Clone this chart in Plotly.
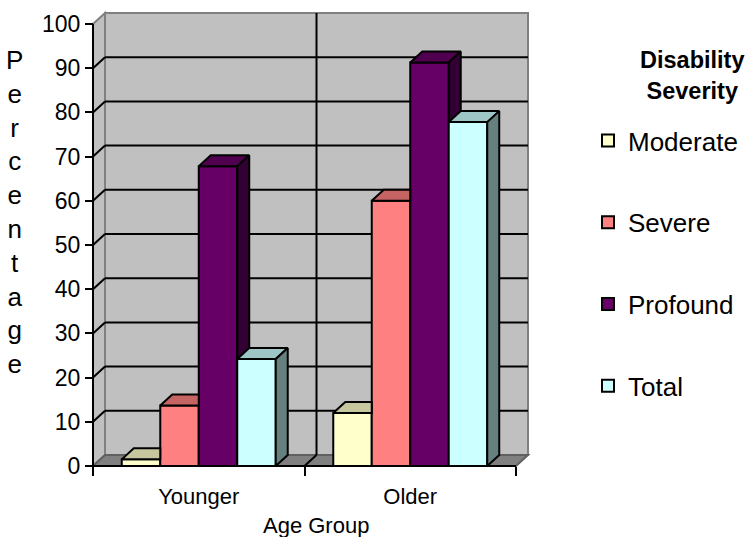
import plotly.graph_objects as go

# ---------------- data ----------------
categories = ["Younger", "Older"]
series_names = ["Moderate", "Severe", "Profound", "Total"]
moderate = [1.5, 12.0]
severe = [13.7, 60.0]
profound = [67.8, 91.3]
total = [24.2, 77.8]
y_ticks = [0, 10, 20, 30, 40, 50, 60, 70, 80, 90, 100]
x_title = "Age Group"
y_title = "Percentage"
legend_title = "Disability<br>Severity"

series_values = [moderate, severe, profound, total]
front_colors = ["#FFFFCC", "#FF8080", "#660066", "#CCFFFF"]


def shade(hx, f):
    hx = hx.lstrip("#")
    r, g, b = (int(hx[i:i + 2], 16) for i in (0, 2, 4))
    return "#%02X%02X%02X" % (int(r * f), int(g * f), int(b * f))


top_colors = [shade(c, 0.78) for c in front_colors]
side_colors = [shade(c, 0.5) for c in front_colors]

# ---------------- layout geometry (pixels) ----------------
W, H = 747, 537
FRONT_L, FRONT_R, FRONT_B, FRONT_T = 93, 516, 466, 24
DEPTH_X, DEPTH_Y = 12, 11
PAD = 4
FONT = "Liberation Sans, Arial, sans-serif"

n_cat = len(categories)
ymax = y_ticks[-1]
pxx = (FRONT_R - FRONT_L) / n_cat
pxy = (FRONT_B - FRONT_T) / ymax
DX = DEPTH_X / pxx
DY = DEPTH_Y / pxy
X0, X1 = -0.5, n_cat - 0.5
xrange_ = [X0 - PAD / pxx, X1 + DX + PAD / pxx]
yrange_ = [-PAD / pxy, ymax + DY + PAD / pxy]
ml = FRONT_L - PAD
mr = W - (FRONT_R + DEPTH_X + PAD)
mt = FRONT_T - DEPTH_Y - PAD
mb = H - FRONT_B - PAD
pw = W - ml - mr
ph = H - mt - mb


def pxp(px):
    return (px - ml) / pw


def pyp(py):
    return 1 - (py - mt) / ph


BARGAP = 0.272
GW = 1 - BARGAP
BW = GW / len(series_names)

fig = go.Figure()

# front faces: real bars
for name, vals, col in zip(series_names, series_values, front_colors):
    fig.add_trace(go.Bar(
        name=name, x=list(range(n_cat)), y=vals,
        marker=dict(color=col, line=dict(color="black", width=2)),
        legendgroup=name, hoverinfo="name+y",
    ))

# top and side faces (3D look), computed from the same values
for i, (name, vals) in enumerate(zip(series_names, series_values)):
    tx, ty, sx, sy = [], [], [], []
    for c in range(n_cat):
        v = vals[c]
        xl = c - GW / 2 + i * BW
        xr = xl + BW
        nxt = series_values[i + 1][c] if i + 1 < len(series_values) else None
        if nxt is not None and nxt > v:
            poly = [(xl, v), (xr, v), (xr, v + DY), (xl + DX, v + DY)]
        else:
            poly = [(xl, v), (xr, v), (xr + DX, v + DY), (xl + DX, v + DY)]
        poly.append(poly[0])
        tx += [p[0] for p in poly] + [None]
        ty += [p[1] for p in poly] + [None]
        base = nxt if nxt is not None else 0
        if base < v:
            sp = [(xr, base), (xr + DX, base + DY), (xr + DX, v + DY), (xr, v), (xr, base)]
            sx += [p[0] for p in sp] + [None]
            sy += [p[1] for p in sp] + [None]
    fig.add_trace(go.Scatter(x=tx, y=ty, mode="lines", fill="toself",
                             fillcolor=top_colors[i], line=dict(color="black", width=2),
                             showlegend=False, hoverinfo="skip"))
    if sx:
        fig.add_trace(go.Scatter(x=sx, y=sy, mode="lines", fill="toself",
                                 fillcolor=side_colors[i], line=dict(color="black", width=2),
                                 showlegend=False, hoverinfo="skip"))

# ---------------- walls, floor, gridlines ----------------
shapes = []
wall_gray = "#C0C0C0"
edge_gray = "#808080"
# back wall
shapes.append(dict(type="rect", xref="x", yref="y", x0=X0 + DX, x1=X1 + DX, y0=DY, y1=ymax + DY,
                   fillcolor=wall_gray, line=dict(color=edge_gray, width=2), layer="below"))
# left side wall
shapes.append(dict(type="path", xref="x", yref="y",
                   path=f"M {X0} 0 L {X0} {ymax} L {X0 + DX} {ymax + DY} L {X0 + DX} {DY} Z",
                   fillcolor=wall_gray, line=dict(color=edge_gray, width=2), layer="below"))
# floor
shapes.append(dict(type="path", xref="x", yref="y",
                   path=f"M {X0} 0 L {X1} 0 L {X1 + DX} {DY} L {X0 + DX} {DY} Z",
                   fillcolor="#808080", line=dict(color="#606060", width=2), layer="below"))
# horizontal gridlines on back and side walls
for v in y_ticks[1:-1]:
    shapes.append(dict(type="line", xref="x", yref="y", x0=X0 + DX, x1=X1 + DX, y0=v + DY, y1=v + DY,
                       line=dict(color="black", width=2), layer="below"))
    shapes.append(dict(type="line", xref="x", yref="y", x0=X0, x1=X0 + DX, y0=v, y1=v + DY,
                       line=dict(color="black", width=2), layer="below"))
# category boundary gridlines (back wall + floor)
for b in [k + 0.5 for k in range(n_cat - 1)]:
    shapes.append(dict(type="line", xref="x", yref="y", x0=b + DX, x1=b + DX, y0=DY, y1=ymax + DY,
                       line=dict(color="black", width=2), layer="below"))
    shapes.append(dict(type="line", xref="x", yref="y", x0=b, x1=b + DX, y0=0, y1=DY,
                       line=dict(color="black", width=2), layer="below"))
# front axis lines
shapes.append(dict(type="line", xref="x", yref="y", x0=X0, x1=X0, y0=0, y1=ymax,
                   line=dict(color="black", width=2), layer="above"))
shapes.append(dict(type="line", xref="x", yref="y", x0=X0, x1=X1, y0=0, y1=0,
                   line=dict(color="black", width=2), layer="above"))

annotations = [
    dict(text=x_title, xref="paper", yref="paper", x=pxp(316), y=pyp(525),
         xanchor="center", yanchor="middle", showarrow=False,
         font=dict(family=FONT, size=22, color="black")),
    dict(text="<br>".join(list(y_title)), xref="paper", yref="paper", x=pxp(14), y=pyp(212),
         xanchor="center", yanchor="middle", showarrow=False, align="center",
         font=dict(family=FONT, size=26, color="black")),
    dict(text="<b>" + legend_title + "</b>", xref="paper", yref="paper", x=pxp(692), y=pyp(76),
         xanchor="center", yanchor="middle", showarrow=False, align="center",
         font=dict(family=FONT, size=23.5, color="black")),
]

fig.update_layout(
    width=W, height=H,
    margin=dict(l=ml, r=mr, t=mt, b=mb, pad=0, autoexpand=False),
    paper_bgcolor="white", plot_bgcolor="white",
    barmode="group", bargap=BARGAP, bargroupgap=0,
    font=dict(family=FONT, color="black"),
    showlegend=True,
    legend=dict(x=pxp(588), y=pyp(117), xanchor="left", yanchor="top",
                font=dict(family=FONT, size=26, color="black"),
                tracegroupgap=45, bgcolor="rgba(0,0,0,0)", itemwidth=30),
    xaxis=dict(range=xrange_, showgrid=False, zeroline=False, showline=False,
               tickmode="array", tickvals=list(range(n_cat)), ticktext=categories,
               ticks="", tickfont=dict(family=FONT, size=22, color="black"),
               anchor="free", position=PAD / ph, ticklabelstandoff=15,
               minor=dict(tickmode="array", tickvals=[k - 0.5 for k in range(n_cat + 1)],
                          ticks="outside", ticklen=9, tickwidth=2, tickcolor="black",
                          showgrid=False)),
    yaxis=dict(range=yrange_, showgrid=False, zeroline=False, showline=False,
               tickmode="array", tickvals=y_ticks, ticks="outside", ticklen=8, tickwidth=2,
               tickcolor="black", tickfont=dict(family=FONT, size=23, color="black"),
               anchor="free", position=PAD / pw),
    shapes=shapes, annotations=annotations,
)

fig.write_html("out.html")
